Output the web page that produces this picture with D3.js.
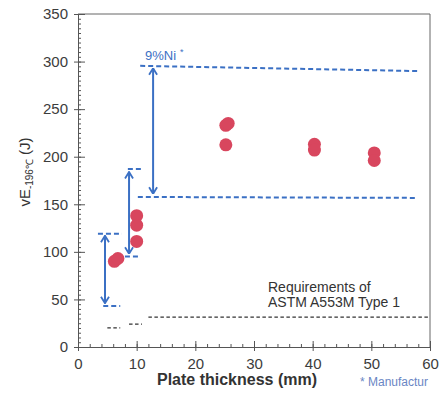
<!DOCTYPE html>
<html>
<head>
<meta charset="utf-8">
<script src="https://cdn.jsdelivr.net/npm/d3@7"></script>
<style>
body { margin: 0; background: #fff; }
svg { font-family: "Liberation Sans", Arial, sans-serif; }
</style>
</head>
<body>
<svg id="chart" width="442" height="403"></svg>
<script>
// 測定値 (板厚 mm, 吸収エネルギー J)
var dotThickness = [6.2, 6.8, 10.0, 10.0, 10.0, 25.2, 25.6, 25.2, 40.3, 40.3, 50.5, 50.5];
var dotEnergy    = [90, 93, 138, 128, 111, 233, 235, 212.5, 213, 207, 204, 196];

// 9%Ni の範囲 (両矢印)
var rangeX    = [4.6, 8.7, 12.8];
var rangeLow  = [46, 98, 161];
var rangeHigh = [117, 184, 293];

// 青の破線 (範囲の上下限)
var limitX0 = [3.4, 4.3, 8.5, 8.0, 10.6, 10.2];
var limitX1 = [7.5, 7.2, 10.9, 10.6, 58.3, 57.9];
var limitY0 = [119, 43, 187, 95, 295.5, 157.7];
var limitY1 = [119, 43, 187, 95, 290, 156.7];

// 規格値 (黒の破線)
var reqX0 = [5.0, 8.7, 12.0];
var reqX1 = [7.2, 10.9, 60];
var reqY  = [20, 24, 31.5];

// 目盛り
var xTicks = [0, 10, 20, 30, 40, 50, 60];
var yTicks = [0, 50, 100, 150, 200, 250, 300, 350];

var blue = "#3b70c4";
var svg = d3.select("#chart");

var x = d3.scaleLinear().domain([0, 60]).range([78, 430]);
var y = d3.scaleLinear().domain([0, 350]).range([347, 14]);

// 矢印マーカー
svg.append("defs").append("marker")
    .attr("id", "arrow")
    .attr("markerUnits", "userSpaceOnUse")
    .attr("viewBox", "0 0 8 10")
    .attr("refX", 7.5)
    .attr("refY", 5)
    .attr("markerWidth", 8)
    .attr("markerHeight", 10)
    .attr("orient", "auto-start-reverse")
    .append("path")
    .attr("d", "M1,1 L7.5,5 L1,9")
    .attr("fill", "none")
    .attr("stroke", blue)
    .attr("stroke-width", 1.8);

// 枠
svg.append("path")
    .attr("d", "M" + x(0) + "," + y(350) + "H" + x(60) + "V" + y(0))
    .attr("fill", "none")
    .attr("stroke", "#666")
    .attr("stroke-width", 1);

// 縦軸
var yAxis = svg.append("g")
    .attr("transform", "translate(" + x(0) + ",0)")
    .call(d3.axisLeft(y).tickValues(yTicks).tickSize(4).tickSizeOuter(0).tickPadding(6));
yAxis.selectAll("text").attr("font-size", 15).attr("fill", "#3c3c3c").attr("font-family", null);
svg.append("g")
    .attr("transform", "translate(" + x(0) + ",0)")
    .call(d3.axisRight(y).tickValues(d3.range(0, 351, 5)).tickSize(3).tickSizeOuter(0).tickFormat(""));
svg.append("g")
    .attr("transform", "translate(" + x(0) + ",0)")
    .call(d3.axisRight(y).tickValues(yTicks).tickSize(7).tickSizeOuter(0).tickFormat(""))
    .select(".domain").remove();

// 横軸
var xAxis = svg.append("g")
    .attr("transform", "translate(0," + y(0) + ")")
    .call(d3.axisBottom(x).tickValues(xTicks).tickSize(4).tickSizeOuter(0).tickPadding(7));
xAxis.selectAll("text").attr("font-size", 15).attr("fill", "#3c3c3c").attr("font-family", null);
svg.append("g")
    .attr("transform", "translate(0," + y(0) + ")")
    .call(d3.axisTop(x).tickValues(d3.range(0, 61, 2)).tickSize(3).tickSizeOuter(0).tickFormat(""));
svg.append("g")
    .attr("transform", "translate(0," + y(0) + ")")
    .call(d3.axisTop(x).tickValues(xTicks).tickSize(6).tickSizeOuter(0).tickFormat(""))
    .select(".domain").remove();
svg.selectAll(".tick line, .domain").attr("stroke", "#555");

// 規格値の破線
svg.selectAll("line.req")
    .data(reqY)
    .enter().append("line")
    .attr("class", "req")
    .attr("x1", function(d, i){ return x(reqX0[i]); })
    .attr("x2", function(d, i){ return x(reqX1[i]); })
    .attr("y1", function(d){ return y(d); })
    .attr("y2", function(d){ return y(d); })
    .attr("stroke", "#333")
    .attr("stroke-width", 1.2)
    .attr("stroke-dasharray", "3.5,2.5");

// 青の破線
svg.selectAll("line.limit")
    .data(limitY0)
    .enter().append("line")
    .attr("class", "limit")
    .attr("x1", function(d, i){ return x(limitX0[i]); })
    .attr("x2", function(d, i){ return x(limitX1[i]); })
    .attr("y1", function(d){ return y(d); })
    .attr("y2", function(d, i){ return y(limitY1[i]); })
    .attr("stroke", blue)
    .attr("stroke-width", 2)
    .attr("stroke-dasharray", "5,3");

// 両矢印
svg.selectAll("line.range")
    .data(rangeX)
    .enter().append("line")
    .attr("class", "range")
    .attr("x1", function(d){ return x(d); })
    .attr("x2", function(d){ return x(d); })
    .attr("y1", function(d, i){ return y(rangeHigh[i]); })
    .attr("y2", function(d, i){ return y(rangeLow[i]); })
    .attr("stroke", blue)
    .attr("stroke-width", 2)
    .attr("marker-start", "url(#arrow)")
    .attr("marker-end", "url(#arrow)");

// 測定点
svg.selectAll("circle.dot")
    .data(dotEnergy)
    .enter().append("circle")
    .attr("class", "dot")
    .attr("cx", function(d, i){ return x(dotThickness[i]); })
    .attr("cy", function(d){ return y(d); })
    .attr("r", 6.5)
    .attr("fill", "#d8465e");

// ラベル類
var ni = svg.append("text")
    .attr("x", 145)
    .attr("y", 60)
    .attr("font-size", 13)
    .attr("fill", blue);
ni.append("tspan").text("9%Ni");
ni.append("tspan").attr("dx", 4).attr("dy", -5).attr("font-size", 9).text("*");

svg.append("text")
    .attr("x", 268)
    .attr("y", 292)
    .attr("font-size", 14)
    .attr("fill", "#333")
    .text("Requirements of");
svg.append("text")
    .attr("x", 268)
    .attr("y", 307)
    .attr("font-size", 14)
    .attr("fill", "#333")
    .text("ASTM A553M Type 1");

svg.append("text")
    .attr("x", 237)
    .attr("y", 385)
    .attr("text-anchor", "middle")
    .attr("font-size", 16)
    .attr("font-weight", "bold")
    .attr("fill", "#333")
    .text("Plate thickness (mm)");

svg.append("text")
    .attr("x", 360)
    .attr("y", 386)
    .attr("font-size", 12)
    .attr("fill", "#6a86c4")
    .text("* Manufactur");

var yl = svg.append("text")
    .attr("transform", "translate(30,172) rotate(-90)")
    .attr("text-anchor", "middle")
    .attr("font-size", 15)
    .attr("fill", "#333");
yl.append("tspan").text("vE");
yl.append("tspan").attr("dy", 3).attr("font-size", 10).text("-196℃");
yl.append("tspan").attr("dy", -3).text(" (J)");
</script>
</body>
</html>
